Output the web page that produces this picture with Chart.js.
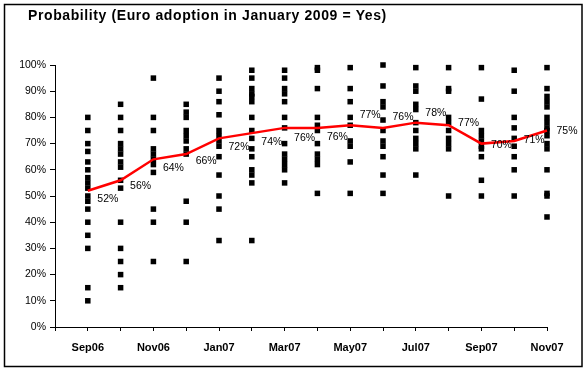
<!DOCTYPE html>
<html><head><meta charset="utf-8">
<script src="https://cdn.jsdelivr.net/npm/chart.js@4/dist/chart.umd.min.js"></script>
<style>html,body{margin:0;padding:0;background:#fff}canvas{display:block}</style>
</head><body>
<canvas id="c" width="588" height="372"></canvas>
<script>
// ---- data ----
const months = ['Sep06','Oct06','Nov06','Dec06','Jan07','Feb07','Mar07','Apr07','May07','Jun07','Jul07','Aug07','Sep07','Oct07','Nov07'];
const probability = [52,56,64,66,72,74,76,76,77,76,78,77,70,71,75];
const respSep06 = [80,75,70,67,63,60,57,55,53,50,48,45,40,35,30,15,10];
const respOct06 = [85,80,75,70,68,66,63,61,56,53,40,30,25,20,15];
const respNov06 = [95,80,75,68,66,64,62,59,45,40,25];
const respDec06 = [85,82,80,75,73,71,68,66,48,40,25];
const respJan07 = [95,90,86,81,75,73,71,69,65,58,50,45,33];
const respFeb07 = [98,95,91,89,88,86,80,75,72,68,65,60,58,55,33];
const respMar07 = [98,95,91,89,86,80,76,70,66,64,62,60,55];
const respApr07 = [99,98,91,80,77,75,70,66,64,62,51];
const respMay07 = [99,91,86,80,77,71,69,63,51];
const respJun07 = [100,92,86,84,79,75,71,69,65,58,51];
const respJul07 = [99,92,90,85,83,78,75,72,70,68,58];
const respAug07 = [99,91,90,80,78,75,72,70,68,50];
const respSep07 = [99,87,75,73,71,69,68,65,56,50];
const respOct07 = [98,90,80,76,72,69,65,60,50];
const respNov07 = [99,91,88,86,84,80,78,76,75,73,70,68,60,51,50,42];
const responses = [respSep06,respOct06,respNov06,respDec06,respJan07,respFeb07,respMar07,respApr07,respMay07,respJun07,respJul07,respAug07,respSep07,respOct07,respNov07];
const yTicks = [0,10,20,30,40,50,60,70,80,90,100];
const titleText = 'Probability (Euro adoption in January 2009 = Yes)';

// ---- style (label offsets relative to the line points) ----
const labelDx = 20;
const labelDy = [8,6,9,7,9,9,10,9,-10,-11,-10,-2,2,-1,1];

const scatterData = responses.flatMap((arr, i) => arr.map(v => ({x: i, y: v})));
const lineData = probability.map((v, i) => ({x: i, y: v}));

const framePlugin = {
  id: 'frame',
  beforeDraw(chart) {
    const ctx = chart.ctx;
    ctx.save();
    ctx.fillStyle = '#fff';
    ctx.fillRect(0, 0, chart.width, chart.height);
    ctx.strokeStyle = '#000';
    ctx.lineWidth = 1.5;
    ctx.strokeRect(4.5, 4.5, 577.5, 362);
    ctx.restore();
  },
  afterDraw(chart) {
    const ctx = chart.ctx;
    ctx.save();
    ctx.fillStyle = '#000';
    ctx.font = 'bold 14px "Liberation Sans", Arial, sans-serif';
    if ('letterSpacing' in ctx) ctx.letterSpacing = '0.6px';
    ctx.textBaseline = 'alphabetic';
    ctx.textAlign = 'left';
    ctx.fillText(titleText, 28, 20);
    ctx.restore();
  }
};

const labelPlugin = {
  id: 'pctLabels',
  afterDatasetsDraw(chart) {
    const meta = chart.getDatasetMeta(0);
    const ctx = chart.ctx;
    ctx.save();
    ctx.fillStyle = '#000';
    ctx.font = '10.5px "Liberation Sans", Arial, sans-serif';
    ctx.textAlign = 'center';
    ctx.textBaseline = 'middle';
    meta.data.forEach((pt, i) => {
      ctx.fillText(probability[i] + '%', pt.x + labelDx, pt.y + labelDy[i]);
    });
    ctx.restore();
  }
};

new Chart(document.getElementById('c'), {
  type: 'scatter',
  data: {
    datasets: [
      {
        type: 'line',
        data: lineData,
        borderColor: '#ff0000',
        borderWidth: 2.5,
        pointRadius: 0,
        fill: false,
        tension: 0,
        clip: false
      },
      {
        type: 'scatter',
        data: scatterData,
        pointStyle: 'rect',
        pointRadius: 3.9,
        pointBorderWidth: 0,
        backgroundColor: '#000',
        borderColor: '#000',
        clip: false
      }
    ]
  },
  options: {
    responsive: false,
    animation: false,
    devicePixelRatio: 1,
    layout: { padding: { left: 5, right: 41, top: 65, bottom: 0 } },
    plugins: { legend: { display: false }, tooltip: { enabled: false }, title: { display: false } },
    scales: {
      x: {
        type: 'linear',
        min: -1, max: 14,
        afterFit(s) { s.height = 45; },
        afterBuildTicks(s) { s.ticks = Array.from({length: 16}, (_, k) => ({value: k - 1})); },
        ticks: {
          autoSkip: false, maxRotation: 0, padding: 10,
          color: '#000',
          font: { family: '"Liberation Sans", Arial, sans-serif', size: 11, weight: 'bold' },
          callback: v => (v >= 0 && v % 2 === 0) ? months[v] : ''
        },
        grid: { drawOnChartArea: false, drawTicks: true, tickLength: 4, color: '#000', tickColor: '#000' },
        border: { color: '#000', width: 1 }
      },
      y: {
        min: 0, max: 100,
        afterFit(s) { s.width = 50; },
        afterBuildTicks(s) { s.ticks = yTicks.map(v => ({value: v})); },
        ticks: {
          padding: 4, color: '#000',
          font: { family: '"Liberation Sans", Arial, sans-serif', size: 10.5 },
          callback: v => v + '%'
        },
        grid: { drawOnChartArea: false, drawTicks: true, tickLength: 5, color: '#000', tickColor: '#000' },
        border: { color: '#000', width: 1 }
      }
    }
  },
  plugins: [framePlugin, labelPlugin]
});
</script>
</body></html>
